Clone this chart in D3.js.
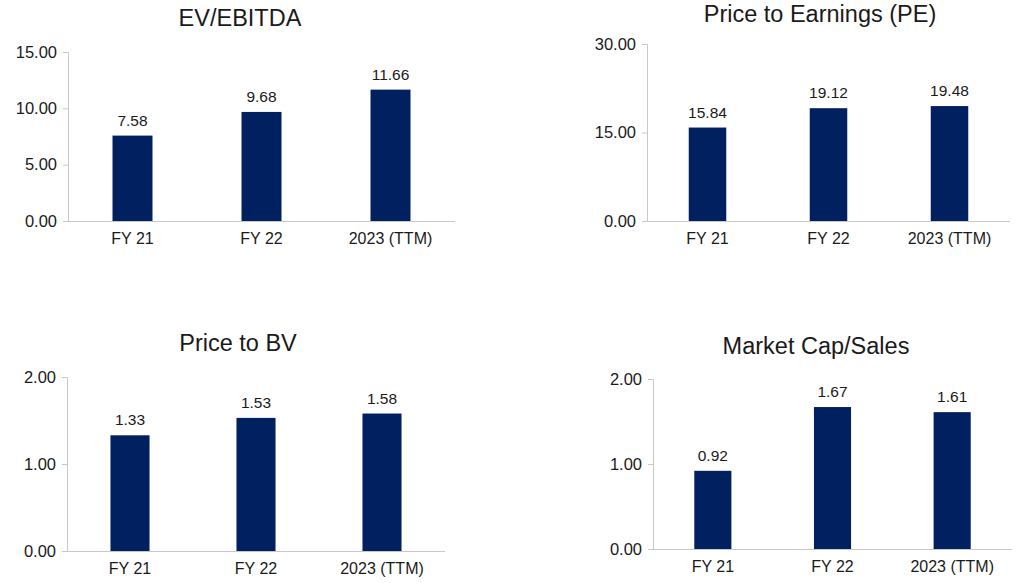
<!DOCTYPE html>
<html>
<head>
<meta charset="utf-8">
<script src="https://cdn.jsdelivr.net/npm/d3@7"></script>
<style>
  body { margin: 0; background: #fff; }
  text { font-family: "Liberation Sans", Arial, sans-serif; fill: #1a1a1a; }
</style>
</head>
<body>
<div class="start"></div>
<script>
const categories = ["FY 21", "FY 22", "2023 (TTM)"];

const evEbitda = [7.58, 9.68, 11.66];
const peRatio = [15.84, 19.12, 19.48];
const priceToBv = [1.33, 1.53, 1.58];
const mcapSales = [0.92, 1.67, 1.61];

const evTicks = [0, 5, 10, 15];
const peTicks = [0, 15, 30];
const bvTicks = [0, 1, 2];
const mcapTicks = [0, 1, 2];

const width = 1024,
  height = 583;

let svg = d3.select(".start").append("svg")
  .attr("width", width)
  .attr("height", height);

// one small bar panel
function panel(opts) {
  let g = svg.append("g");

  let x = d3.scaleBand()
    .domain(categories)
    .range([opts.left, opts.right])
    .paddingInner(0.69)
    .paddingOuter(0.345);

  let y = d3.scaleLinear()
    .domain([0, d3.max(opts.ticks)])
    .range([opts.bottom, opts.top]);

  g.append("text")
    .attr("x", opts.titleX)
    .attr("y", opts.titleY)
    .attr("text-anchor", "middle")
    .attr("font-size", "23.5px")
    .text(opts.title);

  // y axis
  let yAxis = g.append("g")
    .attr("transform", "translate(" + opts.left + ",0)")
    .call(d3.axisLeft(y).tickValues(opts.ticks).tickFormat(d3.format(".2f")).tickSize(5).tickPadding(6));
  yAxis.selectAll("line, path").attr("stroke", "#c8c8c8");
  yAxis.selectAll("text").attr("font-size", "16.5px").attr("fill", "#1a1a1a")
    .attr("font-family", "Liberation Sans, Arial, sans-serif");

  // x axis
  let xAxis = g.append("g")
    .attr("transform", "translate(0," + opts.bottom + ")")
    .call(d3.axisBottom(x).tickSize(0).tickPadding(12).tickSizeOuter(0));
  xAxis.select("path").attr("stroke", "#c8c8c8").attr("d", "M" + opts.left + ",0.5H" + opts.right);
  xAxis.selectAll("text").attr("font-size", "16px").attr("fill", "#1a1a1a")
    .attr("font-family", "Liberation Sans, Arial, sans-serif");

  g.selectAll(".bar")
    .data(opts.values)
    .enter().append("rect")
    .attr("class", "bar")
    .attr("x", (d, i) => x(categories[i]))
    .attr("width", x.bandwidth())
    .attr("y", (d) => y(d))
    .attr("height", (d) => opts.bottom - y(d))
    .attr("fill", "#002060");

  g.selectAll(".val")
    .data(opts.values)
    .enter().append("text")
    .attr("class", "val")
    .attr("x", (d, i) => x(categories[i]) + x.bandwidth() / 2)
    .attr("y", (d) => y(d) - 10)
    .attr("text-anchor", "middle")
    .attr("font-size", "15.5px")
    .text((d) => d.toFixed(2));
}

panel({ title: "EV/EBITDA", values: evEbitda, ticks: evTicks,
  left: 68, right: 455, top: 52, bottom: 221, titleX: 240, titleY: 26 });
panel({ title: "Price to Earnings (PE)", values: peRatio, ticks: peTicks,
  left: 647, right: 1010, top: 44, bottom: 221, titleX: 820, titleY: 22 });
panel({ title: "Price to BV", values: priceToBv, ticks: bvTicks,
  left: 67, right: 445, top: 377, bottom: 551, titleX: 238, titleY: 351 });
panel({ title: "Market Cap/Sales", values: mcapSales, ticks: mcapTicks,
  left: 653, right: 1012, top: 379, bottom: 549, titleX: 816, titleY: 354 });
</script>
</body>
</html>
